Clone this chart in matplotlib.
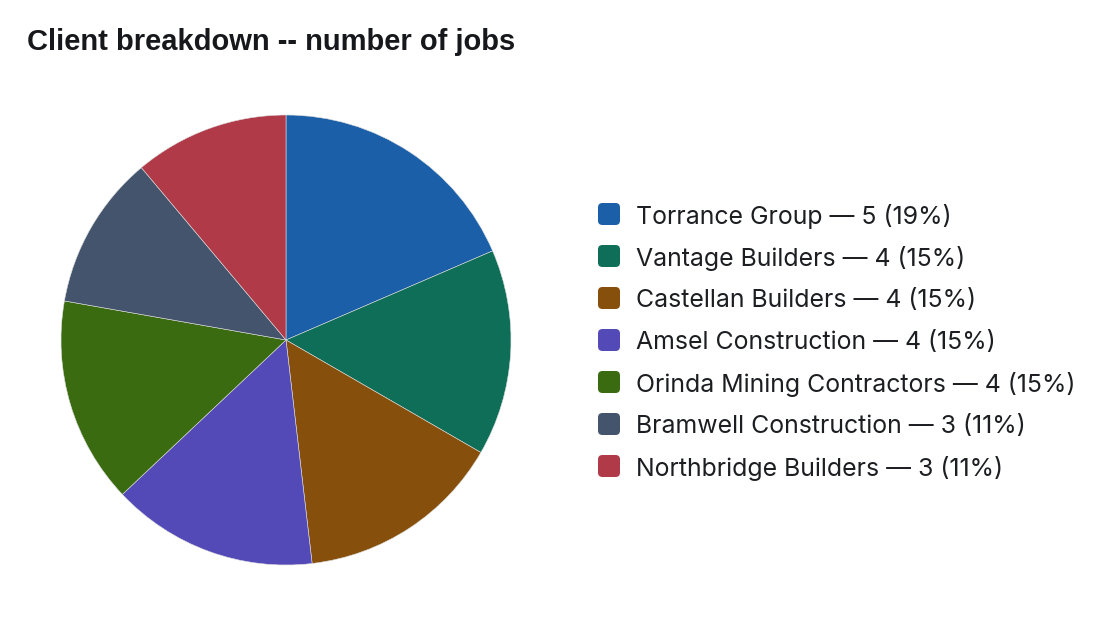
import matplotlib.pyplot as plt
from matplotlib.patches import FancyBboxPatch

# data
clients = ['Torrance Group', 'Vantage Builders', 'Castellan Builders', 'Amsel Construction',
           'Orinda Mining Contractors', 'Bramwell Construction', 'Northbridge Builders']
jobs = [5, 4, 4, 4, 4, 3, 3]
colors = ['#1a5fa8', '#0e6e57', '#86500c', '#5349b7', '#3a6b10', '#44546c', '#b03a48']

W, H = 1112, 618
fig = plt.figure(figsize=(W / 100, H / 100), dpi=100)
fig.patch.set_facecolor('white')

# pie: centre (286, 340), radius 225 px
cx, cy, r = 286, 340, 225
ax = fig.add_axes([(cx - r) / W, (H - cy - r) / H, 2 * r / W, 2 * r / H])
ax.pie(jobs, colors=colors, startangle=90, counterclock=False, radius=1,
       wedgeprops=dict(edgecolor='#dddddd', linewidth=0.4))
ax.set_xlim(-1, 1)
ax.set_ylim(-1, 1)
ax.set_aspect('equal')
ax.axis('off')

# title
fig.text(27 / W, 1 - 50 / H, 'Client breakdown -- number of jobs', fontsize=21,
         fontweight='bold', family='Liberation Sans', color='#16181c',
         va='baseline', ha='left')

# legend drawn by hand
total = sum(jobs)
y0, dy = 214, 42
for i, (name, n, c) in enumerate(zip(clients, jobs, colors)):
    y = y0 + i * dy
    box = FancyBboxPatch((598 / W, 1 - (y + 11) / H), 22 / W, 22 / H,
                         boxstyle='round,pad=0,rounding_size=0.004',
                         transform=fig.transFigure, facecolor=c, edgecolor='none',
                         mutation_aspect=W / H)
    fig.patches.append(box)
    fig.text(636 / W, 1 - y / H, f'{name} \u2014 {n} ({round(100 * n / total)}%)',
             fontsize=17.9, family='Inter', color='#1c1e22', va='center_baseline', ha='left')

fig.savefig('out.png', dpi=100, facecolor='white')
